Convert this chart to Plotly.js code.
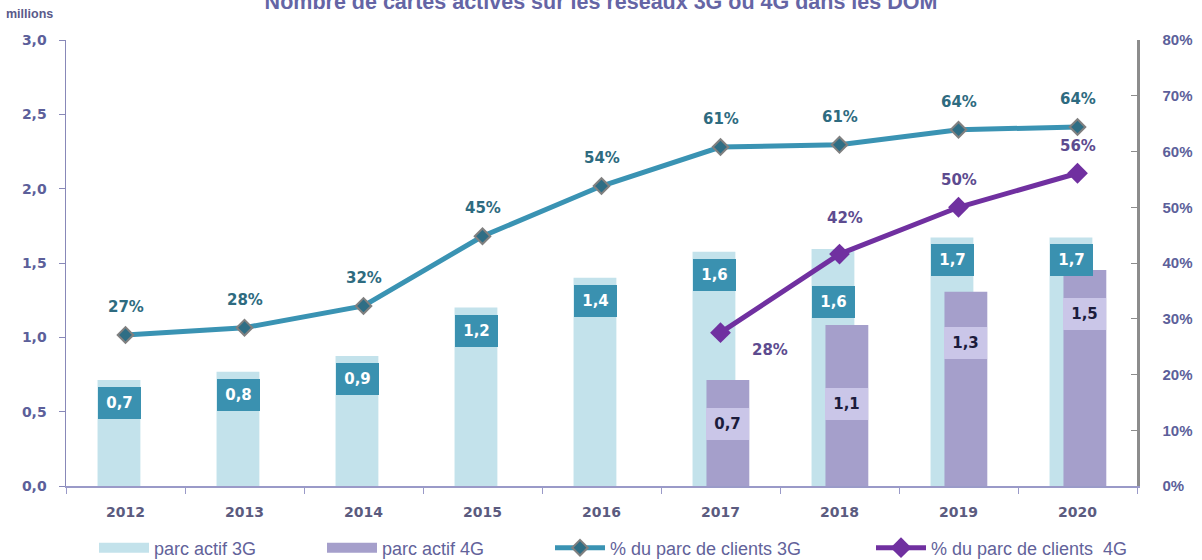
<!DOCTYPE html>
<html>
<head>
<meta charset="utf-8">
<script src="https://cdn.plot.ly/plotly-3.0.1.min.js"></script>
<style>html,body{margin:0;padding:0;background:#fff;}#chart{width:1202px;height:560px;}</style>
</head>
<body>
<div id="chart"></div>
<script>
// ---- data ----
const years = ['2012','2013','2014','2015','2016','2017','2018','2019','2020'];
const parc3G = [0.713, 0.769, 0.874, 1.20, 1.40, 1.576, 1.594, 1.672, 1.672];
const years4G = ['2017','2018','2019','2020'];
const parc4G = [0.713, 1.083, 1.307, 1.453];
const pct3G = [27.1, 28.4, 32.3, 44.8, 53.8, 60.8, 61.2, 63.9, 64.4];
const pct4G = [27.5, 41.6, 50.0, 56.1];
const leftTicks = [0, 0.5, 1.0, 1.5, 2.0, 2.5, 3.0];
const seriesNames = ['parc actif 3G', 'parc actif 4G', '% du parc de clients 3G', '% du parc de clients  4G'];
const titleText = 'Nombre de cartes actives sur les réseaux 3G ou 4G dans les DOM';

// ---- styles / label placement ----
const C3G = '#c3e2eb', C4G = '#a59fcb', CLINE3 = '#3a93b3', CLINE4 = '#7030a0';
const BOX3 = '#3a91b0', BOX4 = '#cac6e8';
const shift3G = [-7,-7,-7,-7,-7,-7,-37,-7,-7];
const shift4G = [-28,-63,-35,-28];
const pct4Gshift = [[49,-17],[5,36],[0,27],[0,27]];
const legendX = [94, 322, 550, 871];
const LBL = 'DejaVu Sans';
const SANS = 'Liberation Sans, Arial';

const fmt = v => v.toFixed(1).replace('.', ',');
const idx = yr => years.indexOf(yr);

const traces = [
  {type:'bar', x:years, y:parc3G, name:seriesNames[0], marker:{color:C3G}, width:0.36, offset:-0.235, showlegend:false, hoverinfo:'skip'},
  {type:'bar', x:years4G, y:parc4G, name:seriesNames[1], marker:{color:C4G}, width:0.36, offset:-0.118, showlegend:false, hoverinfo:'skip'},
  {type:'scatter', mode:'lines+markers', x:years, y:pct3G, yaxis:'y2', name:seriesNames[2],
   line:{color:CLINE3, width:5}, marker:{symbol:'diamond', size:12, color:'#2f6e85', line:{color:'#808080', width:2}}, legend:'legend3'},
  {type:'scatter', mode:'lines+markers', x:years4G, y:pct4G, yaxis:'y2', name:seriesNames[3],
   line:{color:CLINE4, width:5}, marker:{symbol:'diamond', size:16, color:CLINE4}, legend:'legend4'},
  // legend swatches for the bar series
  {type:'scatter', mode:'lines', x:[null], y:[null], name:seriesNames[0], line:{color:C3G, width:14}, legend:'legend'},
  {type:'scatter', mode:'lines', x:[null], y:[null], name:seriesNames[1], line:{color:C4G, width:14}, legend:'legend2'}
];

const ann = [];
years.forEach((yr,i) => {
  ann.push({x:i, y:parc3G[i], xref:'x', yref:'y', text:fmt(parc3G[i]), showarrow:false,
    xshift:-6, yshift:shift3G[i], yanchor:'top', width:43, height:32, borderpad:0, borderwidth:0,
    bgcolor:BOX3, font:{family:LBL, size:15, color:'#ffffff', weight:'bold'}});
  ann.push({x:i, y:pct3G[i], xref:'x', yref:'y2', text:Math.round(pct3G[i])+'%', showarrow:false,
    yshift:28, font:{family:LBL, size:15, color:'#2e6b80', weight:'bold'}});
});
years4G.forEach((yr,i) => {
  ann.push({x:idx(yr), y:parc4G[i], xref:'x', yref:'y', text:fmt(parc4G[i]), showarrow:false,
    xshift:7, yshift:shift4G[i], yanchor:'top', width:43, height:32, borderpad:0, borderwidth:0,
    bgcolor:BOX4, font:{family:LBL, size:15, color:'#1c1c3c', weight:'bold'}});
  ann.push({x:idx(yr), y:pct4G[i], xref:'x', yref:'y2', text:Math.round(pct4G[i])+'%', showarrow:false,
    xshift:pct4Gshift[i][0], yshift:pct4Gshift[i][1], font:{family:LBL, size:15, color:'#5d4b8f', weight:'bold'}});
});
ann.push({xref:'paper', yref:'paper', x:-0.058, y:1.058, xanchor:'left', yanchor:'middle', showarrow:false,
  text:'millions', font:{family:SANS, size:12.5, color:'#5a5a8a', weight:'bold'}});

function legendAt(px) {
  return {orientation:'h', xref:'container', yref:'container', x:px/1202, xanchor:'left',
    y:1 - 548/560, yanchor:'middle', itemwidth:50, bgcolor:'rgba(0,0,0,0)', borderwidth:0,
    font:{family:SANS, size:18, color:'#62629a'}};
}

const layout = {
  width:1202, height:560,
  margin:{l:66, r:65, t:40, b:74},
  paper_bgcolor:'#ffffff', plot_bgcolor:'#ffffff',
  separators:',.',
  barmode:'overlay',
  title:{text:titleText, x:0.5, xanchor:'center',
    y:0.998, yanchor:'middle', font:{family:SANS, size:21.5, color:'#6565a5', weight:'bold'}},
  xaxis:{type:'category', range:[-0.5, 8.5], tickson:'boundaries', ticks:'outside', ticklen:6,
    tickcolor:'#9a9ac8', linecolor:'#9a9ac8', linewidth:1.5, showline:true, showgrid:false, zeroline:false,
    ticklabelstandoff:13, tickfont:{family:LBL, size:14, color:'#5b5b7f', weight:'bold'}},
  yaxis:{range:[0, 3.0], tickvals:leftTicks, tickformat:'.1f', ticks:'outside', ticklen:6, tickcolor:'#8888b8',
    linecolor:'#8888b8', linewidth:1.5, showline:true, showgrid:false, zeroline:false, ticklabelstandoff:9,
    tickfont:{family:LBL, size:14, color:'#5c5f9a', weight:'bold'}},
  yaxis2:{overlaying:'y', side:'right', range:[0, 80], dtick:10, ticksuffix:'%', ticks:'inside', ticklen:6,
    tickcolor:'#8c8c8c', linecolor:'#8c8c8c', linewidth:2.5, showline:true, showgrid:false, zeroline:false,
    ticklabelstandoff:20, tickfont:{family:SANS, size:15, color:'#5c5f9a', weight:'bold'}},
  legend:legendAt(legendX[0]),
  legend2:legendAt(legendX[1]),
  legend3:legendAt(legendX[2]),
  legend4:legendAt(legendX[3]),
  annotations:ann,
  showlegend:true
};

Plotly.newPlot('chart', traces, layout, {staticPlot:true, displayModeBar:false});
</script>
</body>
</html>
